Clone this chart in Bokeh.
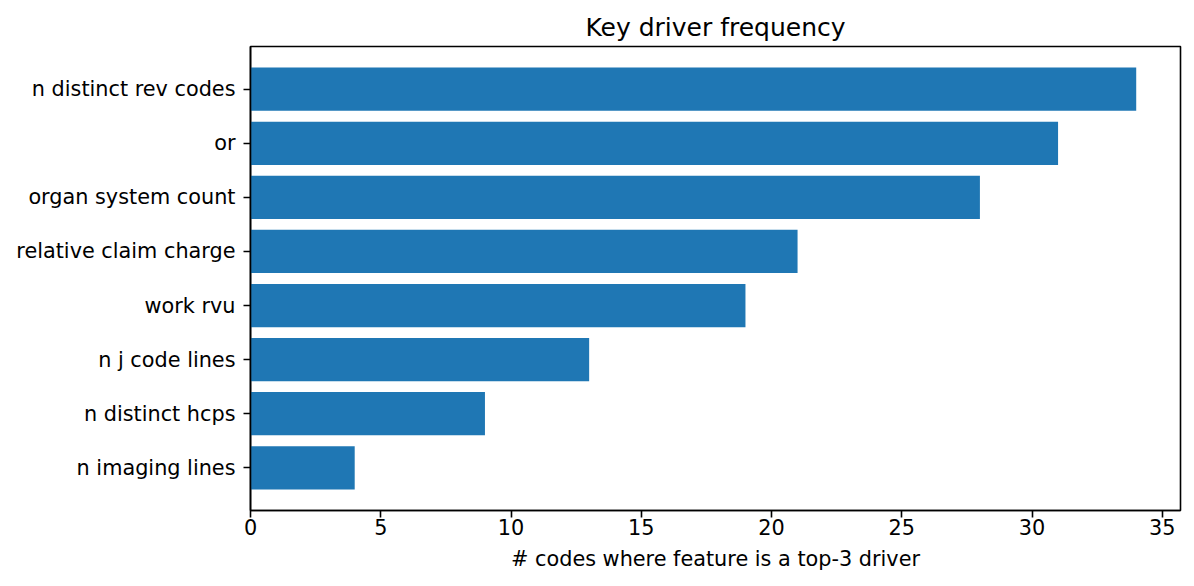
from bokeh.plotting import figure
from bokeh.models import Range1d, FactorRange, FixedTicker, ColumnDataSource
from bokeh.embed import file_html
from bokeh.resources import INLINE

features = ["n distinct rev codes", "or", "organ system count", "relative claim charge",
            "work rvu", "n j code lines", "n distinct hcps", "n imaging lines"]
counts = [34, 31, 28, 21, 19, 13, 9, 4]
x_ticks = [0, 5, 10, 15, 20, 25, 30, 35]

factors = list(reversed(features))
source = ColumnDataSource(data=dict(feature=features, count=counts))

FONT = "DejaVu Sans"
p = figure(width=1186, height=578, output_backend="svg", toolbar_location=None,
           y_range=FactorRange(factors=factors, range_padding=0.0725),
           x_range=Range1d(0, max(counts) * 1.05),
           title="Key driver frequency")
p.hbar(y="feature", right="count", left=0, height=0.8, source=source,
       fill_color="#1f77b4", line_color=None)

p.min_border_left = 250
p.min_border_right = 6
p.min_border_top = 46
p.min_border_bottom = 68

p.title.align = "center"
p.title.text_font = FONT
p.title.text_font_size = "25px"
p.title.text_font_style = "normal"
p.title.text_color = "black"
p.title.standoff = 10

p.xgrid.visible = False
p.ygrid.visible = False
p.outline_line_color = "black"
p.outline_line_width = 1.6
p.outline_line_alpha = 1

p.xaxis.ticker = FixedTicker(ticks=x_ticks)
p.xaxis.axis_label = "# codes where feature is a top-3 driver"
for ax in (p.xaxis, p.yaxis):
    ax.axis_label_text_font = FONT
    ax.axis_label_text_font_size = "20.8px"
    ax.axis_label_text_font_style = "normal"
    ax.axis_label_text_color = "black"
    ax.major_label_text_font = FONT
    ax.major_label_text_font_size = "20.8px"
    ax.major_label_text_color = "black"
    ax.major_tick_in = 0
    ax.major_tick_out = 7
    ax.minor_tick_in = 0
    ax.minor_tick_out = 0
    ax.major_tick_line_color = "black"
    ax.major_tick_line_width = 1.6
    ax.axis_line_color = "black"
    ax.axis_line_width = 1.6
p.xaxis.axis_label_standoff = 9
p.xaxis.major_label_standoff = 1
p.yaxis.major_label_standoff = 8

open("out.html", "w").write(file_html(p, INLINE))
